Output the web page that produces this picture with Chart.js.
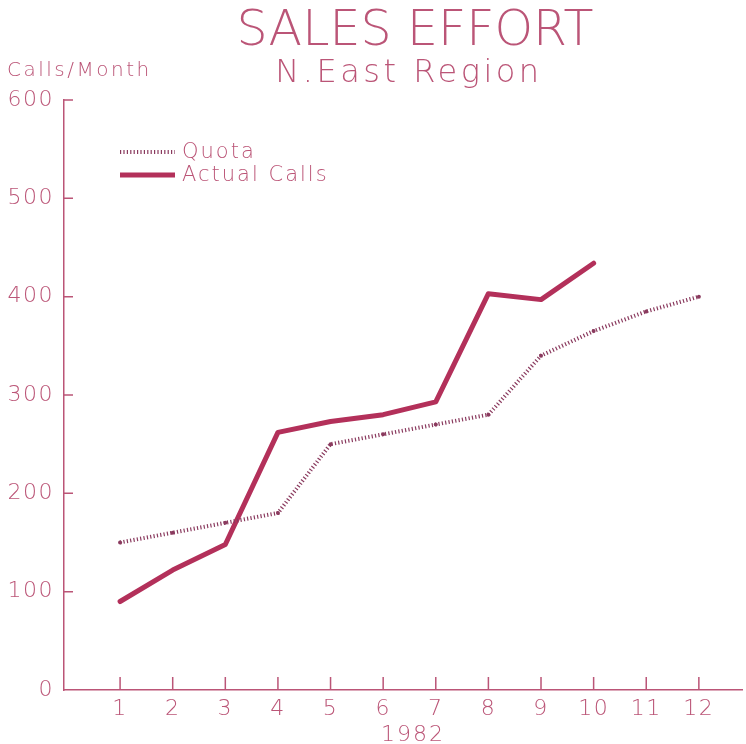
<!DOCTYPE html>
<html>
<head>
<meta charset="utf-8">
<script src="https://cdn.jsdelivr.net/npm/chart.js@4"></script>
<style>
  body { margin: 0; background: #fff; }
</style>
</head>
<body>
<canvas id="salesChart" width="746" height="744"></canvas>
<script>
// Monthly sales calls, N.East region, 1982
const months = [1, 2, 3, 4, 5, 6, 7, 8, 9, 10, 11, 12];
const quota = [150, 160, 170, 180, 250, 260, 270, 280, 340, 365, 385, 400];
const actualCalls = [90, 122, 148, 262, 273, 280, 293, 403, 397, 434];
const yTicks = [0, 100, 200, 300, 400, 500, 600];

const ink = '#bb5577';
const lineRed = '#b3305a';
const dotColor = '#8a3a5e';
const fontFamily = "'DejaVu Sans', sans-serif";

// titles, y-axis caption, legend and inward tick marks
const decorations = {
    id: 'decorations',
    beforeDraw(chart) {
        chart.ctx.letterSpacing = '1.5px';
    },
    beforeDatasetsDraw(chart) {
        chart.ctx.letterSpacing = '0px';
    },
    afterDraw(chart) {
        const ctx = chart.ctx;
        const x = chart.scales.x;
        const y = chart.scales.y;
        ctx.save();
        ctx.fillStyle = ink;
        ctx.textBaseline = 'alphabetic';
        ctx.textAlign = 'center';
        ctx.letterSpacing = '0px';
        ctx.font = '200 49px ' + fontFamily;
        ctx.fillText('SALES EFFORT', 415, 45);
        ctx.letterSpacing = '3.5px';
        ctx.font = '200 32px ' + fontFamily;
        ctx.fillText('N.East Region', 409, 82);
        ctx.letterSpacing = '2px';
        ctx.font = '200 22px ' + fontFamily;
        ctx.fillText('1982', 413, 741);
        ctx.textAlign = 'left';
        ctx.letterSpacing = '2.5px';
        ctx.font = '200 20px ' + fontFamily;
        ctx.fillText('Calls/Month', 7, 76);

        // inward ticks
        ctx.strokeStyle = ink;
        ctx.lineWidth = 1.5;
        ctx.beginPath();
        months.forEach(m => {
            const px = x.getPixelForValue(m);
            ctx.moveTo(px, y.bottom);
            ctx.lineTo(px, y.bottom - 13);
        });
        yTicks.slice(1).forEach(v => {
            const py = y.getPixelForValue(v);
            ctx.moveTo(x.left, py);
            ctx.lineTo(x.left + 9, py);
        });
        ctx.stroke();

        // legend
        const ds = chart.data.datasets;
        ctx.letterSpacing = '2px';
        ctx.font = '200 21px ' + fontFamily;
        ctx.textBaseline = 'middle';
        ds.forEach((d, i) => {
            const ly = 152 + i * 23;
            ctx.beginPath();
            ctx.strokeStyle = d.borderColor;
            ctx.lineWidth = d.borderWidth;
            ctx.setLineDash(d.borderDash || []);
            ctx.moveTo(120, ly);
            ctx.lineTo(175, ly);
            ctx.stroke();
            ctx.setLineDash([]);
            ctx.fillStyle = ink;
            ctx.fillText(d.label, 182, ly + 1);
        });
        ctx.restore();
    }
};

const data = {
    datasets: [{
        label: 'Quota',
        data: quota.map((v, i) => ({ x: months[i], y: v })),
        borderColor: dotColor,
        backgroundColor: dotColor,
        borderWidth: 4,
        borderDash: [1.2, 2.2],
        pointRadius: 2,
        pointBorderWidth: 0,
        tension: 0
    }, {
        label: 'Actual Calls',
        data: actualCalls.map((v, i) => ({ x: months[i], y: v })),
        borderColor: lineRed,
        backgroundColor: lineRed,
        borderWidth: 5,
        pointRadius: 0,
        borderJoinStyle: 'round',
        borderCapStyle: 'round',
        tension: 0
    }]
};

const config = {
    type: 'line',
    data: data,
    options: {
        responsive: false,
        animation: false,
        layout: { padding: { top: 100, right: 0, left: 0, bottom: 0 } },
        plugins: {
            legend: { display: false },
            tooltip: { enabled: false }
        },
        scales: {
            x: {
                type: 'linear',
                min: -0.066,
                max: 12.82,
                afterBuildTicks: s => { s.ticks = months.map(v => ({ value: v })); },
                afterFit: s => { s.height = 54; },
                grid: { display: false, drawTicks: false },
                border: { display: true, color: ink, width: 1.5 },
                ticks: {
                    color: ink,
                    padding: 6,
                    autoSkip: false,
                    maxRotation: 0,
                    font: { family: fontFamily, size: 22, weight: '200' }
                }
            },
            y: {
                min: 0,
                max: 600,
                afterBuildTicks: s => { s.ticks = yTicks.map(v => ({ value: v })); },
                afterFit: s => { s.width = 64; },
                grid: { display: false, drawTicks: false },
                border: { display: true, color: ink, width: 1.5 },
                ticks: {
                    color: ink,
                    padding: 10,
                    font: { family: fontFamily, size: 22, weight: '200' }
                }
            }
        }
    },
    plugins: [decorations]
};

const salesChart = new Chart(
    document.getElementById('salesChart'),
    config
);
</script>
</body>
</html>
